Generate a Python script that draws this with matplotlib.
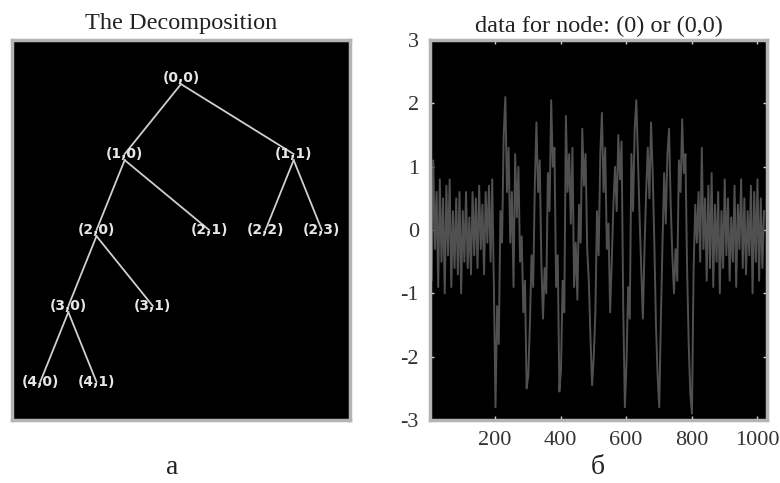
import numpy as np
import matplotlib
matplotlib.use("Agg")
import matplotlib.pyplot as plt

plt.rcParams["axes.unicode_minus"] = False

# --- wavelet packet tree: node labels and their parents ---
nodes = ["(0,0)", "(1,0)", "(1,1)", "(2,0)", "(2,1)", "(2,2)", "(2,3)",
         "(3,0)", "(3,1)", "(4,0)", "(4,1)"]
parents = [None, "(0,0)", "(0,0)", "(1,0)", "(1,0)", "(1,1)", "(1,1)",
           "(2,0)", "(2,0)", "(3,0)", "(3,0)"]
depths = [0, 1, 1, 2, 2, 2, 2, 3, 3, 4, 4]
# terminal nodes, left to right
leaves = ["(4,0)", "(4,1)", "(3,1)", "(2,1)", "(2,2)", "(2,3)"]

# --- signal of node (0,0), read every 5 samples ---
sample_step = 5
signal = [
    # 1..196
    0.9, -0.8, 1.1, -0.3, 0.6, -0.9, 0.8, -0.5, 0.5, -1.0,
    0.7, -0.4, 0.8, -0.9, 0.3, -0.6, 0.5, -0.7, 0.6, -1.0,
    0.3, -0.5, 0.6, -0.6, 0.2, -0.7, 0.6, -0.4, 0.5, -0.6,
    0.7, -0.3, 0.4, -0.7, 0.6, -0.2, 0.7, -0.5, 0.8, -0.9,
    # 201..296
    -2.8, -1.2, -1.8, 0.3, -0.2, 1.5, 2.1, 0.6, 1.3, -0.2,
    0.6, -0.9, 1.2, 0.2, 1.0, -0.5, -0.1, -1.3, -0.8, -2.5,
    # 301..396
    -2.3, -1.5, -0.4, -0.9, 0.7, 1.7, 0.6, 1.1, -0.5, -1.4,
    -0.6, -1.0, 0.9, 0.3, 2.05, 1.0, 1.3, -0.9, -0.4, -2.55,
    # 401..496
    -2.2, -0.8, -1.3, 1.8, 0.6, 1.2, 0.1, 1.3, -0.9, -0.2,
    -1.1, 0.4, -0.2, 1.6, 0.7, 1.2, -0.3, -0.8, -1.7, -2.45,
    # 501..596
    -2.0, -1.3, 0.3, -0.4, 1.2, 1.85, 0.6, 1.3, -0.3, 0.1,
    -1.3, -0.5, 0.4, 1.0, 0.3, 1.5, 0.8, 1.4, -1.2, -2.8,
    # 601..696
    -2.1, -0.9, -1.4, 1.2, 0.3, 1.6, 2.05, 1.1, 0.2, -0.6,
    -1.4, -0.3, 0.6, 1.3, 0.5, 1.7, 0.9, -0.2, -1.5, -2.3,
    # 701..796
    -2.8, -1.4, -0.2, 0.9, 0.1, 1.2, 1.6, 0.4, -0.4, -1.0,
    -0.3, -0.8, 1.1, 0.6, 1.75, 0.9, 1.2, -0.6, -1.8, -2.6,
    # 801..1021
    -2.9, -0.6, 0.4, -0.2, 0.6, -0.5, 1.3, -0.3, 0.5, -0.8,
    0.7, -0.6, 0.9, -0.9, 0.4, -0.5, 0.6, -1.0, 0.3, -0.6,
    0.8, -0.4, 0.5, -0.8, 0.2, -0.5, 0.7, -0.9, 0.4, -0.3,
    0.8, -0.6, 0.5, -0.7, 0.3, -0.4, 0.7, -1.0, 0.6, -0.5,
    0.8, -0.8, 0.5, -0.6, 0.3,
]
y_ticks = [-3, -2, -1, 0, 1, 2, 3]
x_ticks = [200, 400, 600, 800, 1000]

FRAME = "#b4b4b4"
SERIF = "Liberation Serif"


def node_positions():
    """Leaves evenly spaced; each node sits over the mean of its leaves."""
    children = {n: [] for n in nodes}
    for n, p in zip(nodes, parents):
        if p is not None:
            children[p].append(n)

    def leaf_x(n):
        if n in leaves:
            return [leaves.index(n)]
        out = []
        for c in children[n]:
            out += leaf_x(c)
        return out

    return {n: (np.mean(leaf_x(n)), d) for n, d in zip(nodes, depths)}


def style_frame(ax):
    ax.set_facecolor("black")
    for sp in ax.spines.values():
        sp.set_color(FRAME)
        sp.set_linewidth(2.5)


fig = plt.figure(figsize=(7.8, 4.83), dpi=100)

# --- left panel: the tree ---
ax = fig.add_axes([0.0154, 0.1304, 0.4333, 0.7867])
style_frame(ax)
pos = node_positions()
for n, p in zip(nodes, parents):
    if p is None:
        continue
    x0, y0 = pos[p]
    x1, y1 = pos[n]
    ax.plot([x0, x1], [y0 + 0.08, y1], color="#cfcfcf", lw=1.3, zorder=1)
for n in nodes:
    x, y = pos[n]
    ax.text(x, y, n, color="#e6e6e6", fontsize=10, fontweight="bold",
            ha="center", va="center", zorder=2)
ax.set_xlim(-0.5, len(leaves) - 0.5)
ax.set_ylim(max(depths) + 0.5, -0.5)
ax.set_xticks([])
ax.set_yticks([])
ax.set_title("The Decomposition", family=SERIF, fontsize=17.5, color="#222222", pad=8)
fig.text(0.2205, 0.018, "a", family=SERIF, fontsize=20, color="#222222", ha="center")

# --- right panel: node data ---
ax = fig.add_axes([0.5513, 0.1304, 0.432, 0.7867])
style_frame(ax)
x = 1 + sample_step * np.arange(len(signal))
ax.plot(x, signal, color="#505050", lw=1.4)
ax.set_xlim(1, 1030)
ax.set_ylim(-3, 3)
ax.set_xticks(x_ticks)
ax.set_yticks(y_ticks)
ax.tick_params(direction="in", length=3, width=1, color="#d0d0d0",
               top=True, right=True, labelsize=16, labelcolor="#333333", pad=8)
for lab in ax.get_xticklabels() + ax.get_yticklabels():
    lab.set_family(SERIF)
ax.set_title("data for node: (0) or (0,0)", family=SERIF, fontsize=17.5,
             color="#222222", pad=6)
fig.text(0.7667, 0.018, "б", family=SERIF, fontsize=20, color="#222222", ha="center")

fig.savefig("out.png", dpi=100)
